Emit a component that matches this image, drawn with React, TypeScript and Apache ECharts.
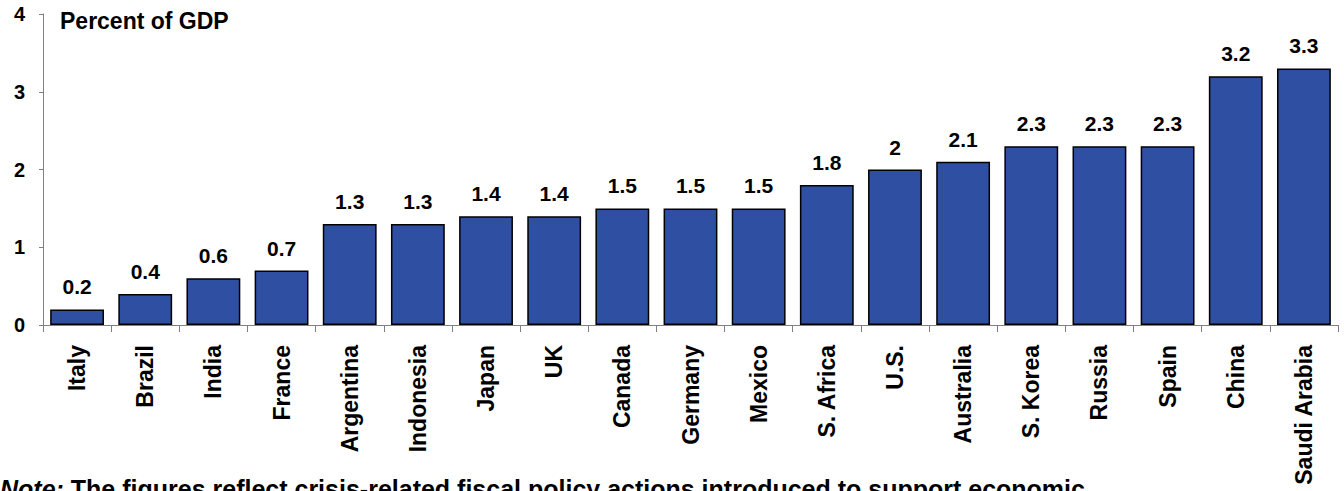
import React, { useEffect, useRef } from "react";
import * as echarts from "echarts";

const countries = [
  "Italy", "Brazil", "India", "France", "Argentina", "Indonesia", "Japan", "UK",
  "Canada", "Germany", "Mexico", "S. Africa", "U.S.", "Australia", "S. Korea",
  "Russia", "Spain", "China", "Saudi Arabia",
];
const stimulusPctGdp = [
  0.2, 0.4, 0.6, 0.7, 1.3, 1.3, 1.4, 1.4, 1.5, 1.5, 1.5, 1.8, 2, 2.1, 2.3, 2.3, 2.3, 3.2, 3.3,
];
const yTicks = [0, 1, 2, 3, 4];
const unitLabel = "Percent of GDP";
const noteLead = "Note:";
const noteBody = " The figures reflect crisis-related fiscal policy actions introduced to support economic";

const FONT = "'Liberation Sans', Arial, Helvetica, sans-serif";

export default function App() {
  const ref = useRef<HTMLDivElement>(null);

  useEffect(() => {
    if (!ref.current) return;
    const chart = echarts.init(ref.current, undefined, { renderer: "svg" });
    chart.setOption({
      animation: false,
      backgroundColor: "#ffffff",
      grid: { left: 43, right: 6, top: 14, bottom: 166, containLabel: false },
      xAxis: {
        type: "category",
        data: countries,
        axisLine: { lineStyle: { color: "#808080", width: 1 } },
        axisTick: { show: true, length: 7, lineStyle: { color: "#808080" } },
        axisLabel: {
          rotate: 90,
          interval: 0,
          margin: 20,
          color: "#000",
          fontFamily: FONT,
          fontWeight: "bold",
          fontSize: 23,
        },
      },
      yAxis: {
        type: "value",
        min: yTicks[0],
        max: yTicks[yTicks.length - 1],
        interval: 1,
        splitLine: { show: false },
        axisLine: { show: true, lineStyle: { color: "#808080", width: 1 } },
        axisTick: { show: true, length: 4, lineStyle: { color: "#808080" } },
        axisLabel: {
          margin: 18,
          color: "#000",
          fontFamily: FONT,
          fontWeight: "bold",
          fontSize: 20,
        },
      },
      series: [
        {
          type: "bar",
          data: stimulusPctGdp,
          barCategoryGap: "21%",
          itemStyle: { color: "#2F4FA2", borderColor: "#000", borderWidth: 1.5 },
          label: {
            show: true,
            position: "top",
            distance: 12,
            color: "#000",
            fontFamily: FONT,
            fontWeight: "bold",
            fontSize: 21,
          },
        },
      ],
      graphic: [
        {
          type: "text",
          left: 60,
          top: 9,
          style: {
            text: unitLabel,
            fill: "#000",
            font: `bold 23px ${FONT}`,
          },
        },
        {
          type: "text",
          left: 0,
          top: 476,
          style: {
            text: `{i|${noteLead}}{b|${noteBody}}`,
            rich: {
              i: { fontFamily: FONT, fontWeight: "bold", fontStyle: "italic", fontSize: 25, fill: "#000" },
              b: { fontFamily: FONT, fontWeight: "bold", fontSize: 25, fill: "#000" },
            },
          },
        },
      ],
    });
    return () => chart.dispose();
  }, []);

  return (
    <div
      ref={ref}
      style={{ position: "absolute", left: 0, top: 0, width: 1344, height: 491, background: "#fff" }}
    />
  );
}
